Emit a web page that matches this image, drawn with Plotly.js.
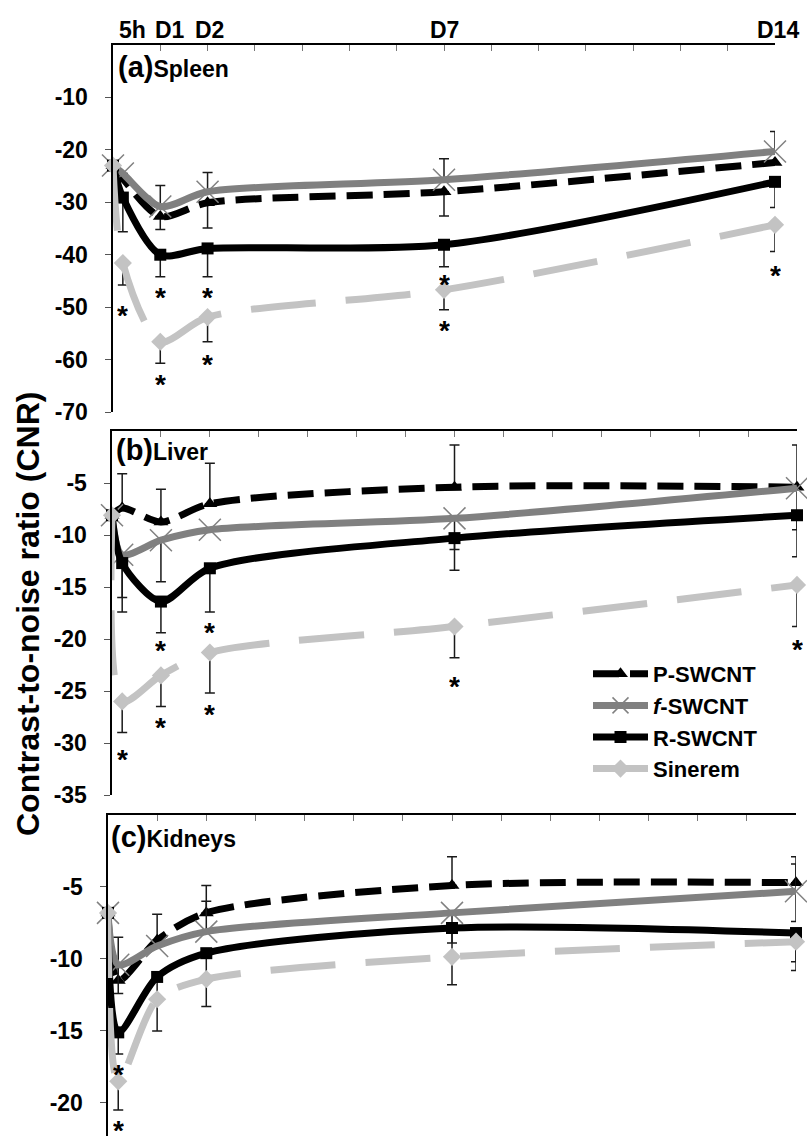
<!DOCTYPE html>
<html>
<head>
<meta charset="utf-8">
<script src="https://cdn.plot.ly/plotly-3.0.1.min.js"></script>
<style>html,body{margin:0;padding:0;background:#fff;}#chart{width:807px;height:1136px;}</style>
</head>
<body>
<div id="chart"></div>
<script>
// ---- Data ----
const times = [0, 5/24, 1, 2, 7, 14];
const timeLabels = ['5h', 'D1', 'D2', 'D7', 'D14'];
const timeLabelPos = [5/24, 1, 2, 7, 14];
const seriesNames = ['P-SWCNT', '<i>f</i>-SWCNT', 'R-SWCNT', 'Sinerem'];

// (a) Spleen
const spleenP = [-23, -25.5, -32.7, -30.1, -28, -22.4];
const spleenF = [-23, -24.5, -30.8, -28, -25.7, -20.3];
const spleenR = [-23, -29.1, -40, -38.8, -38.1, -26.1];
const spleenS = [-23, -41.6, -56.6, -51.9, -46.7, -34.3];
const spleenPErrUp = [0, 0, 0, 0, 0, 0];
const spleenPErrDown = [0, 0, 2.5, 4.8, 4.6, 0];
const spleenFErrUp = [0, 0, 4, 3.7, 4, 3.8];
const spleenFErrDown = [0, 0, 0, 0, 0, 0];
const spleenRErrUp = [0, 0, 0, 0, 0, 0];
const spleenRErrDown = [0, 6.5, 4.2, 5.4, 4.2, 4.9];
const spleenSErrUp = [0, 0, 0, 0, 0, 0];
const spleenSErrDown = [0, 4.2, 4.1, 4.7, 3.8, 5.1];
const spleenStarX = [5/24, 1, 1, 2, 2, 7, 7, 14];
const spleenStarY = [-50.2, -46.7, -63.3, -46.7, -59.5, -44.2, -53, -42.5];

// (b) Liver
const liverP = [-8.1, -7.4, -8.75, -7.0, -5.4, -5.4];
const liverF = [-8.1, -11.9, -10.5, -9.5, -8.4, -5.5];
const liverR = [-8.1, -12.7, -16.4, -13.2, -10.3, -8.1];
const liverS = [-8.1, -26, -23.5, -21.3, -18.8, -14.8];
const liverPErrUp = [0, 3.3, 3.15, 3.9, 4.05, 4.05];
const liverPErrDown = [0, 0, 0, 0, 0, 0];
const liverFErrUp = [0, 0, 0, 0, 0, 0];
const liverFErrDown = [0, 4.1, 4, 0, 3, 4];
const liverRErrUp = [0, 0, 0, 0, 0, 0];
const liverRErrDown = [0, 4.7, 3, 4.2, 3.1, 4];
const liverSErrUp = [0, 0, 0, 0, 0, 0];
const liverSErrDown = [0, 3, 3, 3.9, 3, 4];
const liverStarX = [5/24, 1, 1, 2, 2, 7, 14];
const liverStarY = [-30.9, -20.4, -27.8, -18.7, -26.5, -23.8, -20.3];

// (c) Kidneys
const kidneyP = [-6.8, -11.5, -8.7, -6.8, -4.9, -4.7];
const kidneyF = [-6.8, -10.4, -9.1, -8.1, -6.8, -5.3];
const kidneyR = [-6.8, -15.1, -11.25, -9.6, -7.85, -8.2];
const kidneyS = [-6.8, -18.5, -12.8, -11.4, -9.85, -8.8];
const kidneyPErrUp = [0, 3, 1.8, 1.9, 2, 1.3];
const kidneyPErrDown = [0, 0, 0, 0, 0, 0];
const kidneyFErrUp = [0, 0, 0, 2.1, 0, 2.4];
const kidneyFErrDown = [0, 2, 0, 0, 2.1, 2.1];
const kidneyRErrUp = [0, 0, 0, 0, 0, 0];
const kidneyRErrDown = [0, 1.5, 3.75, 3.7, 3.95, 2];
const kidneySErrUp = [0, 0, 0, 0, 0, 0];
const kidneySErrDown = [0, 2, 0, 0, 0, 2];
const kidneyStarX = [5/24, 5/24];
const kidneyStarY = [-17.5, -21.4];

const panelLabels = ['(a)', '(b)', '(c)'];
const panelOrgans = ['Spleen', 'Liver', 'Kidneys'];
const yTicksA = [-10, -20, -30, -40, -50, -60, -70];
const yTicksB = [-5, -10, -15, -20, -25, -30, -35];
const yTicksC = [-5, -10, -15, -20];
const yTitle = 'Contrast-to-noise ratio (CNR)';

// ---- Styles ----
const FONT = 'Liberation Sans, Arial, Helvetica, sans-serif';
const styles = [
  {color: '#000000', dash: '26px,11px', marker: {symbol: 'triangle-up', size: 13, color: '#000000'}},
  {color: '#808080', dash: 'solid', marker: {symbol: 'x-thin-open', size: 22, color: '#808080', line: {color: '#808080', width: 1.5}}},
  {color: '#000000', dash: 'solid', marker: {symbol: 'square', size: 12, color: '#000000'}},
  {color: '#c3c3c3', dash: '65px,30px', marker: {symbol: 'diamond', size: 14, color: '#c3c3c3'}}
];

const panels = [
  {xa: 'x', ya: 'y', vals: [spleenP, spleenF, spleenR, spleenS],
   up: [spleenPErrUp, spleenFErrUp, spleenRErrUp, spleenSErrUp],
   down: [spleenPErrDown, spleenFErrDown, spleenRErrDown, spleenSErrDown], legend: false},
  {xa: 'x2', ya: 'y2', vals: [liverP, liverF, liverR, liverS],
   up: [liverPErrUp, liverFErrUp, liverRErrUp, liverSErrUp],
   down: [liverPErrDown, liverFErrDown, liverRErrDown, liverSErrDown], legend: true},
  {xa: 'x3', ya: 'y3', vals: [kidneyP, kidneyF, kidneyR, kidneyS],
   up: [kidneyPErrUp, kidneyFErrUp, kidneyRErrUp, kidneySErrUp],
   down: [kidneyPErrDown, kidneyFErrDown, kidneyRErrDown, kidneySErrDown], legend: false}
];

const traces = [];
panels.forEach(p => {
  for (let i = 0; i < 4; i++) {
    const st = styles[i];
    traces.push({
      type: 'scatter', mode: 'lines+markers',
      x: times, y: p.vals[i], xaxis: p.xa, yaxis: p.ya,
      name: seriesNames[i], showlegend: p.legend, cliponaxis: false,
      line: {color: st.color, width: 7, dash: st.dash, shape: 'spline', smoothing: 0.8},
      marker: st.marker,
      error_y: {type: 'data', symmetric: false, array: p.up[i], arrayminus: p.down[i],
                color: '#1a1a1a', thickness: 1.5, width: 5}
    });
  }
});

const annotations = [];
// significance stars (box clipped to the glyph so it sits centred on its value)
[[spleenStarX, spleenStarY, 'x', 'y'], [liverStarX, liverStarY, 'x2', 'y2'], [kidneyStarX, kidneyStarY, 'x3', 'y3']]
  .forEach(([xs, ys, xr, yr]) => {
    xs.forEach((xv, k) => annotations.push({
      x: xv, y: ys[k], xref: xr, yref: yr, text: '*', showarrow: false,
      xanchor: 'center', yanchor: 'middle', height: 16, valign: 'top',
      font: {family: FONT, size: 28, color: '#000', weight: 'bold'}
    }));
  });
// top time labels
const labelShift = [10, 10, 2, 0, 3];
timeLabels.forEach((t, k) => annotations.push({
  x: timeLabelPos[k], y: 1 - 30/1136, xref: 'x', yref: 'paper', text: t, showarrow: false,
  xanchor: 'center', yanchor: 'middle', xshift: labelShift[k],
  font: {family: FONT, size: 23, color: '#000', weight: 'bold'}
}));
// panel labels
const panelLabelPos = [[116, 67], [114, 450], [109, 837]];
panelLabels.forEach((lab, k) => annotations.push({
  x: panelLabelPos[k][0]/807, y: 1 - panelLabelPos[k][1]/1136, xref: 'paper', yref: 'paper',
  text: '<span style="font-size:29px">' + lab + '</span>' + panelOrgans[k], showarrow: false,
  xanchor: 'left', yanchor: 'middle',
  font: {family: FONT, size: 23, color: '#000', weight: 'bold'}
}));
// y title
annotations.push({
  x: 28/807, y: 1 - 614/1136, xref: 'paper', yref: 'paper', text: yTitle, showarrow: false,
  textangle: -90, xanchor: 'center', yanchor: 'middle',
  font: {family: FONT, size: 32, color: '#000', weight: 'bold'}
});

function xAxis(domain, anchor) {
  return {domain: domain, anchor: anchor, range: [0, 14], side: 'top', showline: true, linewidth: 2.5,
    linecolor: '#000', ticks: 'inside', ticklen: 6, tickwidth: 1, tickcolor: '#777', dtick: 1, tick0: 0,
    showticklabels: false, showgrid: false, zeroline: false, fixedrange: true};
}
function yAxis(domain, anchor, range, tv) {
  return {domain: domain, anchor: anchor, range: range, showline: true, linewidth: 2.5, linecolor: '#000',
    ticks: 'outside', ticklen: 6, tickwidth: 1, tickcolor: '#555', tickvals: tv, ticktext: tv.map(String),
    ticklabelstandoff: 12,
    tickfont: {family: FONT, size: 23, color: '#000', weight: 'bold'},
    showgrid: false, zeroline: false, fixedrange: true};
}

const layout = {
  width: 807, height: 1136, margin: {l: 0, r: 0, t: 0, b: 0},
  paper_bgcolor: '#fff', plot_bgcolor: 'rgba(0,0,0,0)', showlegend: true,
  xaxis: xAxis([113/807, 775/807], 'y'),
  yaxis: yAxis([1 - 412/1136, 1 - 45/1136], 'x', [-70, 0], yTicksA),
  xaxis2: xAxis([112/807, 797/807], 'y2'),
  yaxis2: yAxis([1 - 795/1136, 1 - 431/1136], 'x2', [-35, 0], yTicksB),
  xaxis3: xAxis([108/807, 796/807], 'y3'),
  yaxis3: yAxis([0, 1 - 815/1136], 'x3', [-22.3, 0], yTicksC),
  legend: {x: 588/807, y: 1 - 653/1136, xanchor: 'left', yanchor: 'top', bgcolor: 'rgba(0,0,0,0)',
    font: {family: FONT, size: 22, color: '#000', weight: 'bold'}, itemwidth: 55, tracegroupgap: 0},
  annotations: annotations
};

Plotly.newPlot('chart', traces, layout, {displayModeBar: false, staticPlot: true});
</script>
</body>
</html>
